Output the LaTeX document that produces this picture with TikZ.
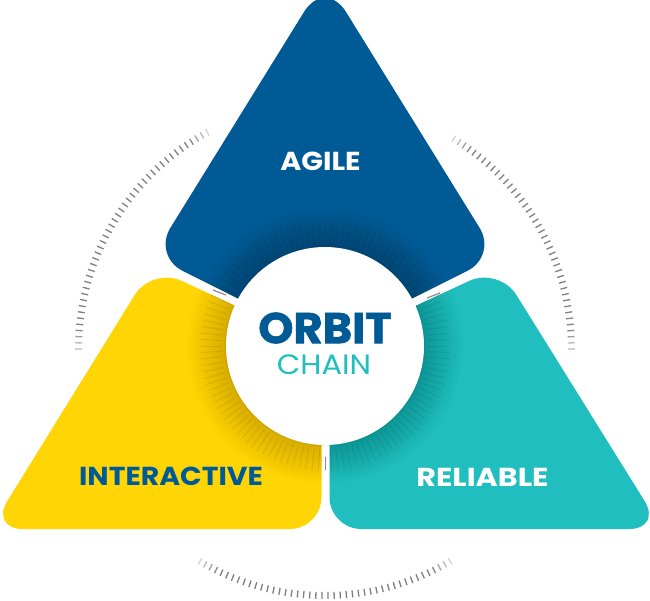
\documentclass[tikz,border=0pt]{standalone}
\usepackage{fontspec}
\setmainfont{Poppins}
\definecolor{cblue}{HTML}{005A96}
\definecolor{cyellow}{HTML}{FFD505}
\definecolor{cteal}{HTML}{20BEBE}
\tikzset{
  ringtick/.style={line width=1.3pt,color=black!50},
  innertick/.style={line width=0.9pt,color=black,opacity=0.08},
  gaptick/.style={line width=1.2pt,color=black!45},
  label/.style={inner sep=0pt},
}
\newcommand{\bluepath}{[rounded corners=40pt] (325,-22) [rounded corners=33pt] -- (153,256) [sharp corners] -- (325,342) [rounded corners=33pt] -- (497,256) [rounded corners=40pt] -- cycle}
\newcommand{\yellowpath}{[rounded corners=33pt] (152,267) [rounded corners=33pt] -- (-10,529) [rounded corners=32pt] -- (321.5,529) [sharp corners] -- (321.5,346) [rounded corners=33pt] -- cycle}
\newcommand{\tealpath}{[rounded corners=33pt] (499,267) [sharp corners] -- (329.5,346) [rounded corners=32pt] -- (329.5,529) [rounded corners=33pt] -- (662,529) [rounded corners=33pt] -- cycle}
\begin{document}
\begin{tikzpicture}[x=1pt,y=-1pt]
\useasboundingbox (0,0) rectangle (650,600);
\fill[white] (0,0) rectangle (650,600);
% outer tick arcs
\foreach \s/\e in {118.5/180,0/58.5,239.5/300.5} {
  \pgfmathsetmacro{\n}{int(round((\e-\s)/1.43))}
  \foreach \i in {0,...,\n} {
    \pgfmathsetmacro{\a}{\s+(\e-\s)*\i/\n}
    \pgfmathsetmacro{\edge}{min(\i,\n-\i)}
    \pgfmathsetmacro{\op}{min(1,0.35+\edge*0.2)}
    \draw[ringtick,opacity=\op] ({325+243*cos(\a)},{349-243*sin(\a)}) -- ({325+250*cos(\a)},{349-250*sin(\a)});
  }
}
% triangles
\fill[cblue] \bluepath;
\fill[cyellow] \yellowpath;
\fill[cteal] \tealpath;
% shading and ticks on each triangle
\foreach \p in {\bluepath,\yellowpath,\tealpath} {
  \begin{scope}
    \clip \p;
    \foreach \r in {100,102,...,138} {
      \fill[black,opacity=0.006] (325,346) circle[radius=\r];
    }
    \foreach \a in {0,3,...,357} {
      \draw[innertick] ({325+103*cos(\a)},{346-103*sin(\a)}) -- ({325+125*cos(\a)},{346-125*sin(\a)});
    }
  \end{scope}
}
% ticks in the gaps
\coordinate (g1a) at (325.7,457); \coordinate (g1b) at (325.7,470);
\coordinate (g2a) at (213,290);   \coordinate (g2b) at (226,295);
\coordinate (g3a) at (427,298);   \coordinate (g3b) at (440,293);
\draw[gaptick] (g1a) -- (g1b);
\draw[gaptick] (g2a) -- (g2b);
\draw[gaptick] (g3a) -- (g3b);
% central disc
\foreach \r in {101,100} {
  \fill[black,opacity=0.02] (325,346) circle[radius=\r];
}
\node[circle,fill=white,minimum size=198pt,inner sep=0pt] (hub) at (325,346) {};
% labels
\node[label,text=white,font=\bfseries\fontsize{26}{26}\selectfont] (agile) at (320.5,161) {\scalebox{1.1}[1]{AGILE}};
\node[label,text=cblue,font=\bfseries\fontsize{26}{26}\selectfont] (interactive) at (171,476) {\scalebox{1.09}[1]{INTERACTIVE}};
\node[label,text=white,font=\bfseries\fontsize{26}{26}\selectfont] (reliable) at (482.5,477) {\scalebox{1.16}[1]{RELIABLE}};
\node[label,text=cblue,font=\bfseries\fontsize{43}{43}\selectfont\addfontfeatures{FakeBold=1.6}] (orbit) at (325,328) {\scalebox{1.04}[1]{ORBIT}};
\node[label,text=cteal,font=\fontsize{28}{28}\selectfont] (chain) at (324,365) {\scalebox{1.09}[1]{CHAIN}};
\end{tikzpicture}
\end{document}
